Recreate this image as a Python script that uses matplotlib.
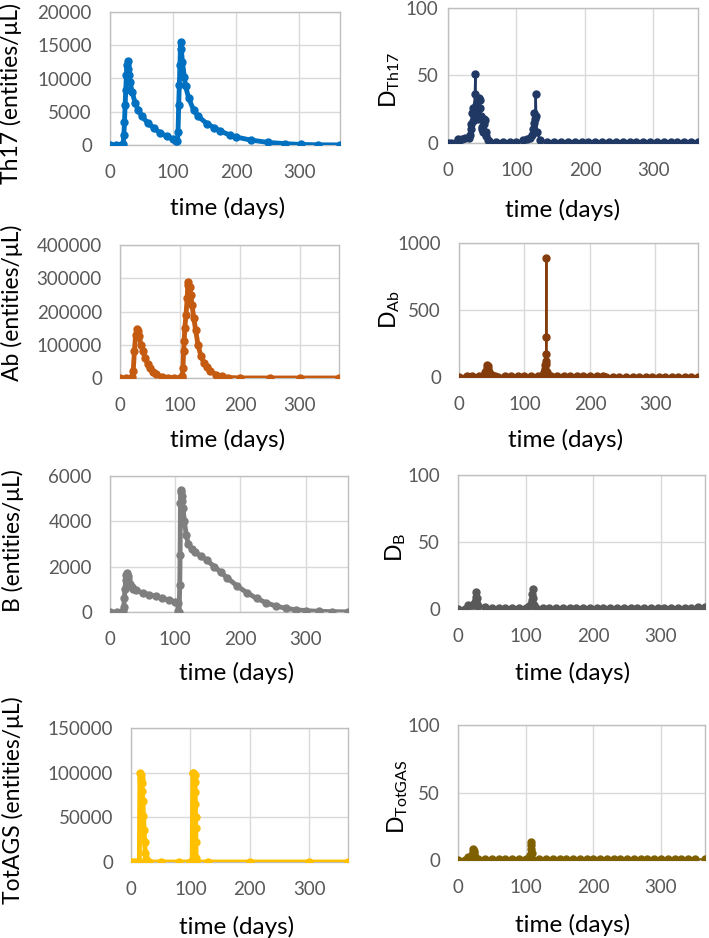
import matplotlib.pyplot as plt

plt.rcParams['font.family'] = ['Lato', 'DejaVu Sans']

# ---- data ----
th17_t = [0, 10, 18, 21, 22, 23, 24, 25, 26, 27, 28, 29, 30, 32, 35, 40, 45, 50, 60, 70, 80, 90, 100, 105, 107,
          108, 109, 110, 111, 112, 113, 115, 118, 120, 125, 133, 140, 154, 165, 175, 190, 200, 223, 250, 277, 303, 330, 365]
th17_v = [0, 0, 0, 200, 1500, 3500, 6000, 8200, 10500, 12000, 12700, 11500, 10500, 9500, 8000, 6300, 5200, 4400, 3300, 2500, 1800, 1300, 900, 650, 600,
          2000, 6000, 9000, 12000, 15500, 14500, 12500, 10200, 8800, 7000, 5200, 4300, 3200, 2600, 2100, 1500, 1200, 750, 400, 200, 80, 30, 10]

ab_t = [0, 10, 18, 20, 22, 24, 26, 28, 30, 32, 35, 38, 42, 46, 50, 55, 60, 70, 80, 90, 100, 103, 104, 105, 106, 107, 108,
        110, 112, 113, 114, 116, 118, 120, 123, 126, 130, 135, 140, 145, 150, 160, 170, 180, 200, 250, 300, 365]
ab_v = [0, 0, 0, 2000, 20000, 80000, 130000, 147000, 140000, 125000, 100000, 80000, 60000, 42000, 30000, 18000, 11000, 4000, 1500, 500, 200, 300, 5000, 30000, 80000, 110000, 150000,
        190000, 240000, 280000, 290000, 275000, 250000, 220000, 180000, 145000, 100000, 65000, 45000, 32000, 22000, 10000, 5000, 1500, 100, 0, 0, 0]

b_t = [0, 10, 18, 20, 21, 22, 23, 24, 25, 26, 27, 28, 30, 33, 36, 40, 50, 60, 70, 80, 90, 100, 104, 105, 106, 107, 107.5, 108, 108.5,
       109, 110, 111, 112, 114, 117, 120, 125, 130, 140, 148, 160, 170, 180, 195, 210, 225, 240, 255, 270, 285, 300, 320, 340, 365]
b_v = [0, 0, 0, 50, 200, 600, 1000, 1400, 1650, 1700, 1600, 1450, 1250, 1100, 1000, 950, 850, 770, 690, 610, 530, 450, 380, 50, 20, 1200, 2500, 4800, 5400,
       5300, 5100, 4900, 4600, 4000, 3400, 3000, 2800, 2650, 2450, 2300, 2000, 1750, 1500, 1150, 850, 600, 400, 260, 160, 100, 60, 30, 15, 5]

ags_t = [0, 5, 10, 14, 15, 16, 17, 18, 19, 20, 21, 22, 23, 24, 25, 26, 30, 50, 80, 100, 103, 104, 105, 106, 107,
         107.5, 108, 108.3, 108.6, 108.9, 109.2, 109.5, 110, 130, 200, 300, 365]
ags_v = [0, 0, 0, 0, 100000, 97000, 93000, 88000, 80000, 68000, 52000, 36000, 22000, 10000, 3000, 0, 0, 0, 0, 0, 0, 100000, 100000, 99000, 97000,
         90000, 78000, 65000, 50000, 38000, 22000, 5000, 0, 0, 0, 0, 0]

dth17_t = [0, 5, 10, 14, 15, 20, 25, 30, 32, 33, 34, 35, 36, 37, 38, 39, 40, 41, 42, 43, 44, 45, 46, 47, 48, 49, 50, 51, 52, 53, 54, 55, 56,
           58, 60, 70, 80, 90, 100, 110, 115, 120, 123, 124, 125, 126, 127, 128, 129, 130, 135, 145, 155, 165, 175, 185, 195, 205, 215,
           225, 235, 245, 255, 265, 275, 285, 295, 305, 315, 325, 335, 345, 355, 365]
dth17_v = [0, 0, 0, 0, 3, 3, 3.5, 4, 6, 10, 14, 22, 16, 26, 20, 36, 51, 28, 24, 30, 18, 33, 32, 26, 20, 12, 10, 8, 14, 18, 17, 8, 5,
           2, 1.5, 1, 1, 1, 1, 2, 3, 4, 6, 10, 15, 22, 18, 36, 20, 8, 2, 1, 1, 1, 1, 1, 1, 1, 1,
           1, 1, 1, 1, 1, 1, 1, 1, 1, 1, 1, 1, 1, 1, 1]

dab_t = [0, 10, 12, 20, 30, 38, 40, 42, 43, 44, 45, 46, 48, 50, 55, 60, 70, 80, 90, 100, 110, 120, 128, 130, 131, 132, 132.5,
         133, 133.2, 133.4, 133.6, 134, 135, 136, 138, 140, 150, 160, 170, 180, 190, 200, 210, 220, 225, 235, 245, 255, 265,
         275, 285, 295, 305, 315, 325, 335, 345, 355, 365]
dab_v = [0, 0, 8, 8, 8, 15, 40, 70, 90, 85, 60, 35, 25, 15, 5, 3, 5, 8, 8, 8, 8, 8, 15, 40, 60, 90, 120,
         170, 300, 890, 100, 40, 20, 10, 8, 8, 8, 8, 10, 10, 10, 10, 8, 8, 2, 1, 1, 1, 1,
         1, 1, 1, 1, 1, 1, 1, 1, 1, 1]

db_t = [0, 10, 14, 15, 20, 24, 25, 26, 26.5, 27, 27.5, 28, 30, 40, 50, 60, 70, 80, 90, 100, 105, 108, 109, 110, 110.5, 111, 112, 115,
        125, 135, 145, 155, 165, 175, 185, 195, 205, 215, 225, 235, 245, 255, 265, 275, 285, 295, 305, 315, 325, 335, 345, 355, 365]
db_v = [0, 0, 0, 3, 3, 3, 5, 7, 9, 13, 8, 4, 2, 1.5, 1, 1, 1, 1, 1, 1, 2, 4, 7, 11, 15, 8, 3, 1,
        1, 1, 1, 1, 1, 1, 1, 1, 1, 1, 1, 1, 1, 1, 1, 1, 1, 1, 1, 1, 1, 1, 1, 1.5, 1.5]

dags_t = [0, 10, 14, 15, 18, 20, 21, 22, 22.5, 23, 23.5, 24, 25, 26, 30, 40, 50, 60, 70, 80, 90, 100, 104, 106, 107, 107.5, 108, 108.5,
          109, 110, 120, 130, 140, 150, 160, 170, 180, 190, 200, 210, 220, 230, 240, 250, 260, 270, 280, 290, 300, 310, 320, 330,
          340, 350, 365]
dags_v = [0, 0, 0, 2.5, 2.5, 3, 4, 6, 8, 7, 5, 3, 2, 1, 0.5, 0.5, 0.5, 0.5, 0.5, 0.5, 0.5, 0.5, 1, 3, 4, 8, 11, 13,
          5, 1, 0.5, 0.5, 0.5, 0.5, 0.5, 0.5, 0.5, 0.5, 0.5, 0.5, 0.5, 0.5, 0.5, 0.5, 0.5, 0.5, 0.5, 0.5, 0.5, 0.5, 0.5, 0.5,
          0.5, 0.5, 0.5]

W, H = 709, 938
fig = plt.figure(figsize=(W / 100, H / 100), dpi=100)

# (t, v, color, ylabel, ymax, ystep, box px (l, t, r, b), ylabel px (x, y), xlabel px (x, y), ypad, lw)
panels = [
    (th17_t, th17_v, '#0070C0', 'Th17 (entities/μL)', 20000, 5000, (110, 12, 340, 145), (11, 93), (228, 208), 13, 3.5),
    (dth17_t, dth17_v, '#203864', r'D$_{\mathregular{Th17}}$', 100, 50, (448, 8, 698, 143), (390, 80), (563, 210), 7, 1.6),
    (ab_t, ab_v, '#C55A11', 'Ab (entities/μL)', 400000, 100000, (120, 245, 339, 378), (12, 303), (228, 440), 13, 3.5),
    (dab_t, dab_v, '#843C0C', r'D$_{\mathregular{Ab}}$', 1000, 500, (459, 243, 698, 377), (390, 310), (566, 440), 13, 1.6),
    (b_t, b_v, '#7F7F7F', 'B (entities/μL)', 6000, 2000, (110, 476, 348, 612), (13, 541), (237, 673), 13, 3.5),
    (db_t, db_v, '#595959', r'D$_{\mathregular{B}}$', 100, 50, (458, 475, 705, 609), (396, 547), (573, 673), 13, 1.6),
    (ags_t, ags_v, '#FFC000', 'TotAGS (entities/μL)', 150000, 50000, (131, 728, 348, 862), (13, 800), (237, 927), 13, 3.5),
    (dags_t, dags_v, '#7F6000', r'D$_{\mathregular{TotGAS}}$', 100, 50, (458, 725, 705, 860), (398, 797), (573, 925), 13, 1.6),
]

for t, v, color, ylab, ymax, ystep, (l, tp, r, b), (lx, ly), (xx, xy), ypad, lw in panels:
    ax = fig.add_axes([l / W, 1 - b / H, (r - l) / W, (b - tp) / H])
    ax.plot(t, v, color=color, lw=lw, marker='o', ms=5, zorder=3)
    ax.set_xlim(0, 365)
    ax.set_ylim(0, ymax)
    ax.set_xticks([0, 100, 200, 300])
    ax.set_yticks(list(range(0, ymax + 1, ystep)))
    ax.grid(True, color='#D9D9D9', lw=1)
    ax.set_axisbelow(True)
    for s in ax.spines.values():
        s.set_color('#BFBFBF')
        s.set_linewidth(1)
    ax.tick_params(axis='both', length=0, labelsize=13.5, labelcolor='#595959')
    ax.tick_params(axis='y', pad=ypad)
    ax.tick_params(axis='x', pad=14)
    ax.set_ylabel(ylab, fontsize=16.5, va='center')
    ax.set_xlabel('time (days)', fontsize=17.5, va='center')
    ax.yaxis.set_label_coords((lx - l) / (r - l), 1 - (ly - tp) / (b - tp))
    ax.xaxis.set_label_coords((xx - l) / (r - l), 1 - (xy - tp) / (b - tp))

fig.savefig('out.png', dpi=100)
